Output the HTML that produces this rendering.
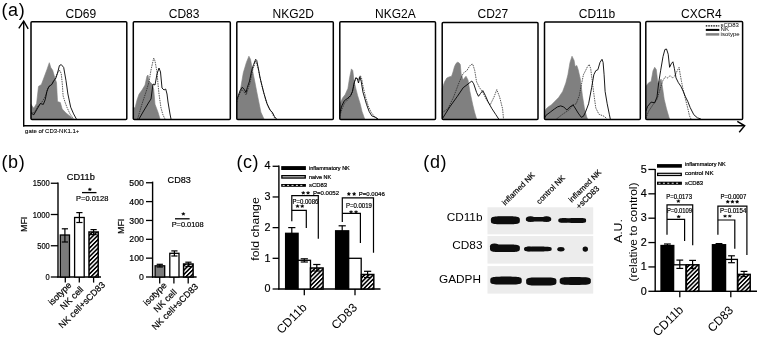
<!DOCTYPE html>
<html><head><meta charset="utf-8"><style>
html,body{margin:0;padding:0;background:#fff;width:760px;height:338px;overflow:hidden;}
svg{display:block;will-change:transform;}
text{font-family:"Liberation Sans", sans-serif;fill:#000;stroke:#000;stroke-width:0.2px;}
</style></head><body>
<svg width="760" height="338" viewBox="0 0 760 338">
<defs>
<pattern id="hatch" patternUnits="userSpaceOnUse" width="3.05" height="3.05" patternTransform="rotate(45)">
<rect width="3.05" height="3.05" fill="#fff"/><rect x="0" y="0" width="1.6" height="3.05" fill="#000"/>
</pattern>
<filter id="bl" x="-20%" y="-50%" width="140%" height="200%"><feGaussianBlur stdDeviation="0.75"/></filter>
</defs>
<rect width="760" height="338" fill="#fff"/>
<text x="1.5" y="15.8" font-size="18" text-anchor="start" letter-spacing="0.6" style="stroke:none">(a)</text>
<text x="65.5" y="18.2" font-size="12" text-anchor="start"  style="stroke:none">CD69</text>
<text x="168.75" y="18.2" font-size="12" text-anchor="start"  style="stroke:none">CD83</text>
<text x="272.5" y="18.2" font-size="12" text-anchor="start"  style="stroke:none">NKG2D</text>
<text x="375" y="18.2" font-size="12" text-anchor="start"  style="stroke:none">NKG2A</text>
<text x="477.5" y="18.2" font-size="12" text-anchor="start"  style="stroke:none">CD27</text>
<text x="578.75" y="18.2" font-size="12" text-anchor="start"  style="stroke:none">CD11b</text>
<text x="681" y="18.2" font-size="12" text-anchor="start"  style="stroke:none">CXCR4</text>
<polygon points="31.00,119.00 31.00,104.40 33.80,108.20 36.60,103.50 38.50,86.40 41.40,84.50 44.20,77.00 47.00,69.40 49.30,62.70 50.80,67.50 52.70,70.30 54.60,77.00 56.50,82.60 57.50,101.60 60.30,102.50 62.20,109.00 66.00,113.00 70.70,116.70 72.60,119.00" fill="#808080" stroke="#808080" stroke-width="0.6"/>
<polyline points="31.00,112.00 34.00,113.00 38.00,106.00 42.00,102.00 45.00,97.00 48.00,88.00 52.00,84.00 55.00,79.00 57.00,74.00 58.50,71.00 60.00,70.50 61.30,74.00 62.30,84.00 63.10,95.90 65.00,102.00 66.90,107.20 70.00,114.00 73.60,119.00" fill="none" stroke="#222" stroke-width="0.75" stroke-linejoin="miter" stroke-dasharray="1.5,0.9"/>
<polyline points="31.00,113.00 33.80,114.80 37.60,108.20 40.40,103.50 43.30,104.40 45.20,99.70 47.00,91.10 48.90,86.40 51.80,84.50 53.70,80.70 55.60,78.80 57.50,73.20 59.40,65.60 61.25,64.60 63.70,67.50 66.00,80.70 67.90,94.00 70.70,107.20 73.60,113.90 76.40,119.00" fill="none" stroke="#000" stroke-width="0.9" stroke-linejoin="miter" />
<rect x="31" y="21.7" width="95.8" height="97.7" rx="1" fill="none" stroke="#000" stroke-width="1.5"/>
<polygon points="133.30,119.00 133.30,107.20 135.00,108.00 137.00,100.00 139.00,94.20 142.00,90.10 145.00,85.10 147.00,76.00 148.00,75.00 149.00,81.00 152.00,84.00 153.70,89.00 155.00,104.20 158.00,112.20 160.00,119.00" fill="#808080" stroke="#808080" stroke-width="0.6"/>
<polyline points="137.60,119.00 142.00,104.00 146.00,92.00 149.00,82.00 151.00,70.00 153.70,58.00 155.00,61.00 157.00,72.00 158.00,84.00 159.00,94.00 161.00,108.00 163.00,115.00 165.00,119.00" fill="none" stroke="#222" stroke-width="0.75" stroke-linejoin="miter" stroke-dasharray="1.5,0.9"/>
<polyline points="139.00,119.00 143.00,112.00 146.00,107.00 149.00,102.00 151.00,99.00 153.00,84.00 155.00,85.00 157.00,74.00 159.00,68.00 160.50,72.00 162.00,88.00 164.00,90.00 165.70,89.00 167.00,94.00 168.00,102.00 170.00,114.00 171.00,119.00" fill="none" stroke="#000" stroke-width="0.9" stroke-linejoin="miter" />
<rect x="133.3" y="21.7" width="97.0" height="97.7" rx="1" fill="none" stroke="#000" stroke-width="1.5"/>
<polygon points="236.80,119.00 236.80,101.90 240.10,91.50 243.30,72.80 246.40,62.40 248.90,56.20 250.50,59.30 252.60,70.70 254.70,81.10 256.70,91.50 258.80,101.90 260.90,112.20 264.00,119.00" fill="#808080" stroke="#808080" stroke-width="0.6"/>
<polyline points="236.80,102.00 239.50,94.00 241.80,89.50 244.00,92.00 246.20,95.00 248.00,89.00 250.00,83.00 252.00,73.00 253.20,68.00 254.20,66.00 255.20,61.00 256.50,63.00 258.00,68.00 259.50,75.00 261.00,82.00 263.00,90.00 266.00,101.00 269.00,108.50 271.50,112.00 274.00,117.00 275.50,119.00" fill="none" stroke="#222" stroke-width="0.75" stroke-linejoin="miter" stroke-dasharray="1.5,0.9"/>
<polyline points="236.80,99.80 240.10,90.50 242.20,87.30 244.30,89.40 246.00,92.50 247.40,87.30 249.50,81.10 251.60,70.70 253.60,64.50 255.70,59.30 256.70,60.40 258.80,70.70 259.90,77.00 261.90,85.30 264.00,93.60 267.10,103.90 270.20,110.20 272.30,112.20 274.40,116.40 276.50,119.00" fill="none" stroke="#000" stroke-width="0.9" stroke-linejoin="miter" />
<rect x="236.8" y="21.7" width="96.5" height="97.7" rx="1" fill="none" stroke="#000" stroke-width="1.5"/>
<polygon points="339.80,119.00 339.80,104.30 342.50,98.10 345.20,94.60 347.90,88.40 349.60,77.70 351.40,68.90 352.80,70.60 354.10,81.30 355.80,88.40 357.60,95.50 360.30,104.30 362.00,111.40 364.70,119.00" fill="#808080" stroke="#808080" stroke-width="0.6"/>
<polyline points="339.80,116.00 342.00,109.00 344.50,103.00 348.00,99.50 351.00,96.00 353.00,90.00 354.80,81.00 356.70,77.70 358.00,80.00 359.00,78.00 360.30,75.60 361.50,78.00 363.00,86.00 365.60,97.20 368.30,106.10 371.00,112.00 374.50,116.70 377.10,119.00" fill="none" stroke="#222" stroke-width="0.75" stroke-linejoin="miter" stroke-dasharray="1.5,0.9"/>
<polyline points="339.80,113.20 341.70,106.10 344.30,100.80 347.90,98.10 350.50,95.50 352.30,91.90 354.10,83.00 355.80,77.70 357.30,78.60 358.50,83.00 359.90,76.80 361.20,81.30 362.90,91.90 364.70,98.10 366.50,104.30 369.10,111.40 371.80,115.90 376.20,117.60 378.00,119.00" fill="none" stroke="#000" stroke-width="0.9" stroke-linejoin="miter" />
<rect x="339.8" y="21.7" width="95.69999999999999" height="97.7" rx="1" fill="none" stroke="#000" stroke-width="1.5"/>
<polygon points="442.20,119.00 442.20,88.70 444.50,82.00 446.80,78.00 449.00,77.00 451.60,76.20 453.00,72.00 454.50,66.50 456.00,63.50 457.40,62.30 459.00,62.80 460.30,64.60 461.20,74.20 463.20,80.00 464.50,78.00 466.00,76.20 468.00,80.00 469.90,91.50 472.80,105.00 474.50,112.00 476.60,119.00" fill="#808080" stroke="#808080" stroke-width="0.6"/>
<polyline points="442.20,112.70 447.80,108.80 453.50,97.30 459.30,81.90 463.20,73.30 467.00,70.40 469.00,67.00 470.80,64.60 472.80,64.20 474.70,70.40 476.60,81.90 479.50,87.70 482.40,91.50 486.20,99.20 490.10,105.00 493.90,97.30 496.80,89.60 499.70,97.30 502.60,108.80 503.50,119.00" fill="none" stroke="#222" stroke-width="0.75" stroke-linejoin="miter" stroke-dasharray="1.5,0.9"/>
<polyline points="442.20,119.00 449.70,107.00 457.40,96.30 463.20,87.70 467.00,84.80 471.80,81.00 473.70,83.80 476.60,92.50 478.50,96.30 480.50,93.50 482.80,90.60 485.30,95.40 488.20,102.10 492.00,108.80 495.80,114.60 498.70,119.00" fill="none" stroke="#000" stroke-width="0.9" stroke-linejoin="miter" />
<rect x="442.2" y="22.4" width="95.80000000000001" height="97.0" rx="1" fill="none" stroke="#000" stroke-width="1.5"/>
<polygon points="544.50,119.00 544.50,112.00 546.00,109.00 548.20,106.90 551.30,104.90 554.40,101.80 558.60,97.60 562.70,91.40 565.80,83.10 567.90,74.80 570.00,62.40 572.00,56.20 574.10,60.40 575.10,66.60 576.80,65.50 578.20,69.70 580.30,79.00 582.40,95.50 584.40,108.00 586.50,116.30 587.50,119.00" fill="#808080" stroke="#808080" stroke-width="0.6"/>
<polyline points="556.50,119.00 562.70,114.20 568.90,110.00 573.10,104.90 576.20,103.80 579.30,95.50 581.30,85.20 583.40,74.80 585.50,70.70 587.50,66.60 589.20,64.50 590.70,68.60 591.70,76.90 593.80,93.50 595.80,108.00 598.90,114.20 604.10,116.30 607.20,119.00" fill="none" stroke="#222" stroke-width="0.75" stroke-linejoin="miter" stroke-dasharray="1.5,0.9"/>
<polyline points="544.50,118.00 546.10,115.20 550.30,112.10 554.40,109.00 557.50,106.90 560.60,105.90 563.70,106.90 566.80,110.00 570.00,106.90 573.10,104.90 575.10,108.00 578.20,113.10 581.30,117.30 583.40,116.30 585.50,112.10 588.60,103.80 591.70,87.30 593.80,74.80 595.80,70.70 597.90,69.70 600.00,62.40 602.00,59.30 603.10,62.40 604.10,74.80 605.10,91.40 607.20,103.80 609.30,114.20 610.30,119.00" fill="none" stroke="#000" stroke-width="0.9" stroke-linejoin="miter" />
<rect x="544.5" y="22" width="95.79999999999995" height="97.4" rx="1" fill="none" stroke="#000" stroke-width="1.5"/>
<polygon points="645.80,119.00 645.80,86.20 648.70,82.70 651.10,81.50 653.00,70.80 654.70,67.30 656.30,69.60 657.80,82.70 659.40,81.50 661.10,79.10 662.50,87.40 664.20,99.30 666.50,108.80 668.90,117.10 669.60,119.00" fill="#808080" stroke="#808080" stroke-width="0.6"/>
<polyline points="645.80,118.30 648.70,111.10 653.50,104.00 657.00,99.30 660.60,87.40 663.00,80.30 665.30,76.80 667.70,77.90 670.10,75.60 672.50,77.90 674.80,75.60 677.20,70.80 679.10,67.30 680.00,73.20 681.50,81.50 683.10,89.80 685.50,99.30 687.90,108.80 689.50,115.90 691.00,119.00" fill="none" stroke="#222" stroke-width="0.75" stroke-linejoin="miter" stroke-dasharray="1.5,0.9"/>
<polyline points="645.80,111.10 647.60,106.40 651.10,102.10 654.70,102.80 657.00,96.90 658.70,82.70 660.60,70.80 663.00,56.60 664.90,49.50 666.50,49.00 668.20,54.20 669.60,67.30 671.30,63.70 672.90,61.80 674.40,68.50 676.00,77.90 678.40,82.70 680.80,86.20 683.10,91.00 685.50,96.90 687.90,101.70 690.20,107.60 693.80,114.70 697.40,117.80 700.90,119.00" fill="none" stroke="#000" stroke-width="0.9" stroke-linejoin="miter" />
<rect x="645.8" y="21.6" width="96.80000000000007" height="97.80000000000001" rx="1" fill="none" stroke="#000" stroke-width="1.5"/>
<line x1="705.8" y1="25.9" x2="719.3" y2="25.9" stroke="#000" stroke-width="1.4" stroke-dasharray="1.5,1"/>
<line x1="705.8" y1="29.9" x2="719.3" y2="29.9" stroke="#000" stroke-width="2.0" />
<line x1="705.8" y1="34.4" x2="719.3" y2="34.4" stroke="#808080" stroke-width="2.5" />
<text x="720.6" y="26.6" font-size="6" text-anchor="start" style="stroke:none">sCD83</text>
<text x="720.6" y="31.2" font-size="6" text-anchor="start" style="stroke:none">NK</text>
<text x="720.6" y="36.0" font-size="6" text-anchor="start" style="stroke:none">isotype</text>
<line x1="23.7" y1="21.5" x2="23.7" y2="126.4" stroke="#000" stroke-width="1.4" />
<polyline points="18.80,28.40 23.70,21.00 28.20,28.90" fill="none" stroke="#000" stroke-width="1.4" stroke-linejoin="miter" />
<line x1="23.0" y1="125.8" x2="744.5" y2="125.8" stroke="#000" stroke-width="1.4" />
<polyline points="737.30,121.40 744.70,125.80 739.20,132.30" fill="none" stroke="#000" stroke-width="1.4" stroke-linejoin="miter" />
<text x="25.1" y="132.8" font-size="6" text-anchor="start" style="stroke-width:0.1px">gate of CD3-NK1.1+</text>
<text x="1.5" y="168.2" font-size="18" text-anchor="start" letter-spacing="0.6" style="stroke:none">(b)</text>
<line x1="58" y1="182.6" x2="58" y2="277.6" stroke="#000" stroke-width="1.4" />
<line x1="50.8" y1="183.25" x2="58" y2="183.25" stroke="#000" stroke-width="1.3" />
<text x="49.8" y="186.25" font-size="8.8" text-anchor="end" textLength="17" lengthAdjust="spacingAndGlyphs" >1500</text>
<line x1="50.8" y1="214.5" x2="58" y2="214.5" stroke="#000" stroke-width="1.3" />
<text x="49.8" y="217.5" font-size="8.8" text-anchor="end" textLength="17" lengthAdjust="spacingAndGlyphs" >1000</text>
<line x1="50.8" y1="245.75" x2="58" y2="245.75" stroke="#000" stroke-width="1.3" />
<text x="49.8" y="248.75" font-size="8.8" text-anchor="end" textLength="12.6" lengthAdjust="spacingAndGlyphs" >500</text>
<line x1="50.8" y1="277" x2="58" y2="277" stroke="#000" stroke-width="1.3" />
<text x="49.8" y="280.0" font-size="8.8" text-anchor="end" textLength="4.2" lengthAdjust="spacingAndGlyphs" >0</text>
<line x1="57.4" y1="277" x2="101" y2="277" stroke="#000" stroke-width="1.4" />
<text x="66.8" y="180.2" font-size="9.2" text-anchor="start" textLength="28" lengthAdjust="spacingAndGlyphs" >CD11b</text>
<text x="27" y="224.35" font-size="8.9" text-anchor="middle" transform="rotate(-90 27 224.35)" >MFI</text>
<rect x="60.3" y="235" width="9.2" height="42" fill="#7b7b7b" stroke="#000" stroke-width="1.3"/>
<line x1="64.9" y1="228.8" x2="64.9" y2="242" stroke="#000" stroke-width="1.2" />
<line x1="61.800000000000004" y1="228.8" x2="68.0" y2="228.8" stroke="#000" stroke-width="1.2" />
<line x1="61.800000000000004" y1="242" x2="68.0" y2="242" stroke="#000" stroke-width="1.2" />
<rect x="74.6" y="217.5" width="9.6" height="59.5" fill="#fff" stroke="#000" stroke-width="1.3"/>
<line x1="79.4" y1="212.6" x2="79.4" y2="222.5" stroke="#000" stroke-width="1.2" />
<line x1="76.30000000000001" y1="212.6" x2="82.5" y2="212.6" stroke="#000" stroke-width="1.2" />
<line x1="76.30000000000001" y1="222.5" x2="82.5" y2="222.5" stroke="#000" stroke-width="1.2" />
<rect x="89" y="232" width="9.2" height="45" fill="url(#hatch)" stroke="#000" stroke-width="1.5"/>
<line x1="93.6" y1="229.6" x2="93.6" y2="234.6" stroke="#000" stroke-width="1.2" />
<line x1="90.5" y1="229.6" x2="96.69999999999999" y2="229.6" stroke="#000" stroke-width="1.2" />
<line x1="90.5" y1="234.6" x2="96.69999999999999" y2="234.6" stroke="#000" stroke-width="1.2" />
<line x1="65.3" y1="277" x2="65.3" y2="282.6" stroke="#000" stroke-width="1.3" />
<line x1="79.3" y1="277" x2="79.3" y2="282.6" stroke="#000" stroke-width="1.3" />
<line x1="93.6" y1="277" x2="93.6" y2="282.6" stroke="#000" stroke-width="1.3" />
<line x1="82" y1="192.6" x2="96.5" y2="192.6" stroke="#000" stroke-width="1.3" />
<text x="76.1" y="200.7" font-size="7.5" text-anchor="start" textLength="32.2" lengthAdjust="spacingAndGlyphs" >P=0.0128</text>
<text x="72.1" y="285.7" font-size="9" text-anchor="end" transform="rotate(-45 72.1 285.7)" >isotype</text>
<text x="84" y="290" font-size="9" text-anchor="end" transform="rotate(-45 84 290)" >NK cell</text>
<text x="105.7" y="285.4" font-size="9" text-anchor="end" transform="rotate(-45 105.7 285.4)" >NK cell+sCD83</text>
<line x1="152.6" y1="181.6" x2="152.6" y2="277.6" stroke="#000" stroke-width="1.4" />
<line x1="146" y1="277.0" x2="152.6" y2="277.0" stroke="#000" stroke-width="1.3" />
<text x="143.8" y="280.1" font-size="8.7" text-anchor="end" >0</text>
<line x1="146" y1="258.15" x2="152.6" y2="258.15" stroke="#000" stroke-width="1.3" />
<text x="143.8" y="261.25" font-size="8.7" text-anchor="end" >100</text>
<line x1="146" y1="239.3" x2="152.6" y2="239.3" stroke="#000" stroke-width="1.3" />
<text x="143.8" y="242.4" font-size="8.7" text-anchor="end" >200</text>
<line x1="146" y1="220.45" x2="152.6" y2="220.45" stroke="#000" stroke-width="1.3" />
<text x="143.8" y="223.54999999999998" font-size="8.7" text-anchor="end" >300</text>
<line x1="146" y1="201.6" x2="152.6" y2="201.6" stroke="#000" stroke-width="1.3" />
<text x="143.8" y="204.7" font-size="8.7" text-anchor="end" >400</text>
<line x1="146" y1="182.75" x2="152.6" y2="182.75" stroke="#000" stroke-width="1.3" />
<text x="143.8" y="185.85" font-size="8.7" text-anchor="end" >500</text>
<line x1="152.0" y1="277" x2="196.6" y2="277" stroke="#000" stroke-width="1.4" />
<text x="167.6" y="183.0" font-size="9.1" text-anchor="start" >CD83</text>
<text x="124" y="226.3" font-size="8.9" text-anchor="middle" transform="rotate(-90 124 226.3)" >MFI</text>
<rect x="155.1" y="265.8" width="9.6" height="11.2" fill="#7b7b7b" stroke="#000" stroke-width="1.3"/>
<line x1="159.8" y1="264.3" x2="159.8" y2="267" stroke="#000" stroke-width="1.2" />
<line x1="156.70000000000002" y1="264.3" x2="162.9" y2="264.3" stroke="#000" stroke-width="1.2" />
<line x1="156.70000000000002" y1="267" x2="162.9" y2="267" stroke="#000" stroke-width="1.2" />
<rect x="169.8" y="253.3" width="9.2" height="23.7" fill="#fff" stroke="#000" stroke-width="1.3"/>
<line x1="174.4" y1="250.9" x2="174.4" y2="256" stroke="#000" stroke-width="1.2" />
<line x1="171.3" y1="250.9" x2="177.5" y2="250.9" stroke="#000" stroke-width="1.2" />
<line x1="171.3" y1="256" x2="177.5" y2="256" stroke="#000" stroke-width="1.2" />
<rect x="183.6" y="264" width="9.5" height="13" fill="url(#hatch)" stroke="#000" stroke-width="1.5"/>
<line x1="188.4" y1="262.2" x2="188.4" y2="266.5" stroke="#000" stroke-width="1.2" />
<line x1="185.3" y1="262.2" x2="191.5" y2="262.2" stroke="#000" stroke-width="1.2" />
<line x1="185.3" y1="266.5" x2="191.5" y2="266.5" stroke="#000" stroke-width="1.2" />
<line x1="159.7" y1="277" x2="159.7" y2="283.6" stroke="#000" stroke-width="1.3" />
<line x1="173.9" y1="277" x2="173.9" y2="283.6" stroke="#000" stroke-width="1.3" />
<line x1="188.2" y1="277" x2="188.2" y2="283.6" stroke="#000" stroke-width="1.3" />
<line x1="175" y1="218.8" x2="189.6" y2="218.8" stroke="#000" stroke-width="1.3" />
<text x="171.7" y="227.1" font-size="7.2" text-anchor="start" textLength="31.9" lengthAdjust="spacingAndGlyphs" >P=0.0108</text>
<text x="167.3" y="286" font-size="9" text-anchor="end" transform="rotate(-45 167.3 286)" >isotype</text>
<text x="177.4" y="292.8" font-size="9" text-anchor="end" transform="rotate(-45 177.4 292.8)" >NK cell</text>
<text x="198.8" y="287.2" font-size="9" text-anchor="end" transform="rotate(-45 198.8 287.2)" >NK cell+sCD83</text>
<text x="236.4" y="168.2" font-size="18" text-anchor="start" letter-spacing="0.6" style="stroke:none">(c)</text>
<line x1="278.9" y1="165.6" x2="278.9" y2="289.6" stroke="#000" stroke-width="1.4" />
<line x1="272.6" y1="289.0" x2="278.9" y2="289.0" stroke="#000" stroke-width="1.3" />
<text x="270.6" y="292.2" font-size="11.8" text-anchor="end" textLength="6.0" lengthAdjust="spacingAndGlyphs" >0</text>
<line x1="272.6" y1="258.32" x2="278.9" y2="258.32" stroke="#000" stroke-width="1.3" />
<text x="270.6" y="261.52" font-size="11.8" text-anchor="end" textLength="6.0" lengthAdjust="spacingAndGlyphs" >1</text>
<line x1="272.6" y1="227.64" x2="278.9" y2="227.64" stroke="#000" stroke-width="1.3" />
<text x="270.6" y="230.83999999999997" font-size="11.8" text-anchor="end" textLength="6.0" lengthAdjust="spacingAndGlyphs" >2</text>
<line x1="272.6" y1="196.96" x2="278.9" y2="196.96" stroke="#000" stroke-width="1.3" />
<text x="270.6" y="200.16" font-size="11.8" text-anchor="end" textLength="6.0" lengthAdjust="spacingAndGlyphs" >3</text>
<line x1="272.6" y1="166.28" x2="278.9" y2="166.28" stroke="#000" stroke-width="1.3" />
<text x="270.6" y="169.48" font-size="11.8" text-anchor="end" textLength="6.0" lengthAdjust="spacingAndGlyphs" >4</text>
<line x1="278.29999999999995" y1="289" x2="380.5" y2="289" stroke="#000" stroke-width="1.4" />
<line x1="304.3" y1="289" x2="304.3" y2="295.3" stroke="#000" stroke-width="1.3" />
<line x1="355" y1="289" x2="355" y2="295.3" stroke="#000" stroke-width="1.3" />
<text x="258.7" y="229" font-size="10.8" text-anchor="middle" transform="rotate(-90 258.7 229)" textLength="63.5" lengthAdjust="spacingAndGlyphs" style="stroke:none">fold change</text>
<rect x="285.6" y="233.3" width="12.5" height="55.7" fill="#000" stroke="#000" stroke-width="1.3"/>
<line x1="291.8" y1="227.6" x2="291.8" y2="236" stroke="#000" stroke-width="1.2" />
<line x1="288.2" y1="227.6" x2="295.40000000000003" y2="227.6" stroke="#000" stroke-width="1.2" />
<line x1="288.2" y1="236" x2="295.40000000000003" y2="236" stroke="#000" stroke-width="1.2" />
<rect x="298.1" y="260.3" width="12.4" height="28.7" fill="#fff" stroke="#000" stroke-width="1.3"/>
<line x1="304.3" y1="258.8" x2="304.3" y2="262" stroke="#000" stroke-width="1.2" />
<line x1="300.7" y1="258.8" x2="307.90000000000003" y2="258.8" stroke="#000" stroke-width="1.2" />
<line x1="300.7" y1="262" x2="307.90000000000003" y2="262" stroke="#000" stroke-width="1.2" />
<rect x="310.5" y="268" width="12.6" height="21" fill="url(#hatch)" stroke="#000" stroke-width="1.5"/>
<line x1="316.8" y1="264.5" x2="316.8" y2="271" stroke="#000" stroke-width="1.2" />
<line x1="313.2" y1="264.5" x2="320.40000000000003" y2="264.5" stroke="#000" stroke-width="1.2" />
<line x1="313.2" y1="271" x2="320.40000000000003" y2="271" stroke="#000" stroke-width="1.2" />
<rect x="335.6" y="230.8" width="13.1" height="58.2" fill="#000" stroke="#000" stroke-width="1.3"/>
<line x1="342.2" y1="225.8" x2="342.2" y2="233" stroke="#000" stroke-width="1.2" />
<line x1="338.59999999999997" y1="225.8" x2="345.8" y2="225.8" stroke="#000" stroke-width="1.2" />
<line x1="338.59999999999997" y1="233" x2="345.8" y2="233" stroke="#000" stroke-width="1.2" />
<rect x="348.7" y="258.3" width="12.5" height="30.7" fill="#fff" stroke="#000" stroke-width="1.3"/>
<rect x="361.4" y="274.5" width="12.4" height="14.5" fill="url(#hatch)" stroke="#000" stroke-width="1.5"/>
<line x1="367.6" y1="271.3" x2="367.6" y2="277.5" stroke="#000" stroke-width="1.2" />
<line x1="364.0" y1="271.3" x2="371.20000000000005" y2="271.3" stroke="#000" stroke-width="1.2" />
<line x1="364.0" y1="277.5" x2="371.20000000000005" y2="277.5" stroke="#000" stroke-width="1.2" />
<rect x="281.2" y="166.1" width="24.7" height="3.9" fill="#000"/>
<rect x="281.2" y="175" width="24.7" height="3.7" fill="#000"/>
<line x1="282.5" y1="176.85" x2="304.59999999999997" y2="176.85" stroke="#fff" stroke-width="0.9" />
<rect x="281.2" y="184" width="24.7" height="2.8" fill="#000"/>
<line x1="282.7" y1="185.4" x2="304.59999999999997" y2="185.4" stroke="#fff" stroke-width="0.9" stroke-dasharray="2,2.4"/>
<text x="309" y="169.8" font-size="5.4" text-anchor="start" textLength="40.8" lengthAdjust="spacingAndGlyphs" >inflammatory NK</text>
<text x="309" y="178.6" font-size="5.4" text-anchor="start" textLength="22.2" lengthAdjust="spacingAndGlyphs" >naive NK</text>
<text x="309" y="187.4" font-size="5.4" text-anchor="start" textLength="18" lengthAdjust="spacingAndGlyphs" >sCD83</text>
<polyline points="291.80,221.30 291.80,195.60 318.30,195.60 318.30,238.80" fill="none" stroke="#000" stroke-width="1.2" stroke-linejoin="miter" />
<polyline points="291.80,210.30 306.30,210.30 306.30,228.00" fill="none" stroke="#000" stroke-width="1.2" stroke-linejoin="miter" />
<text x="313" y="194.8" font-size="6.2" text-anchor="start" textLength="26.1" lengthAdjust="spacingAndGlyphs" >P=0.0052</text>
<text x="292.5" y="203.6" font-size="7" text-anchor="start" textLength="25.8" lengthAdjust="spacingAndGlyphs" >P=0.0086</text>
<polyline points="342.30,221.90 342.30,197.80 373.50,197.80 373.50,252.70" fill="none" stroke="#000" stroke-width="1.2" stroke-linejoin="miter" />
<polyline points="342.30,213.40 360.40,213.40 360.40,243.00" fill="none" stroke="#000" stroke-width="1.2" stroke-linejoin="miter" />
<text x="358.8" y="195.9" font-size="6.2" text-anchor="start" textLength="26" lengthAdjust="spacingAndGlyphs" >P=0.0046</text>
<text x="346" y="208" font-size="7" text-anchor="start" textLength="25.9" lengthAdjust="spacingAndGlyphs" >P=0.0019</text>
<text x="307.6" y="308.3" font-size="12.2" text-anchor="end" transform="rotate(-45 307.6 308.3)"  style="stroke:none">CD11b</text>
<text x="357.9" y="308.4" font-size="12" text-anchor="end" transform="rotate(-45 357.9 308.4)"  style="stroke:none">CD83</text>
<text x="423.3" y="168.2" font-size="18" text-anchor="start" letter-spacing="0.6" style="stroke:none">(d)</text>
<rect x="487.5" y="207.3" width="105.7" height="27" fill="#ececec"/>
<rect x="487.5" y="236" width="105.7" height="27.6" fill="#ececec"/>
<rect x="487.5" y="266.1" width="105.7" height="27.5" fill="#ececec"/>
<text x="482.5" y="221.0" font-size="11.8" text-anchor="end"  style="stroke:none">CD11b</text>
<text x="482.5" y="249.4" font-size="11.8" text-anchor="end"  style="stroke:none">CD83</text>
<text x="481" y="283.2" font-size="11.8" text-anchor="end"  style="stroke:none">GADPH</text>
<g filter="url(#bl)">
<polygon points="519.80,220.30 519.77,221.48 519.69,221.97 519.55,222.33 519.36,222.64 519.11,222.90 518.80,223.13 518.43,223.33 518.00,223.51 517.50,223.66 516.94,223.80 516.29,223.92 515.57,224.02 514.74,224.11 513.80,224.18 512.70,224.23 511.37,224.27 509.62,224.29 505.35,224.30 501.08,224.29 499.33,224.27 498.00,224.23 496.90,224.18 495.96,224.11 495.13,224.02 494.41,223.92 493.76,223.80 493.20,223.66 492.70,223.51 492.27,223.33 491.90,223.13 491.59,222.90 491.34,222.64 491.15,222.33 491.01,221.97 490.93,221.48 490.90,220.30 490.93,219.12 491.01,218.63 491.15,218.27 491.34,217.96 491.59,217.70 491.90,217.47 492.27,217.27 492.70,217.09 493.20,216.94 493.76,216.80 494.41,216.68 495.13,216.58 495.96,216.49 496.90,216.42 498.00,216.37 499.33,216.33 501.08,216.31 505.35,216.30 509.62,216.31 511.37,216.33 512.70,216.37 513.80,216.42 514.74,216.49 515.57,216.58 516.29,216.68 516.94,216.80 517.50,216.94 518.00,217.09 518.43,217.27 518.80,217.47 519.11,217.70 519.36,217.96 519.55,218.27 519.69,218.63 519.77,219.12" fill="#080808"/>
<polygon points="551.20,219.20 551.18,219.85 551.10,220.12 550.98,220.32 550.81,220.49 550.59,220.63 550.32,220.76 550.00,220.87 549.62,220.96 549.19,221.05 548.69,221.13 548.13,221.19 547.49,221.25 546.77,221.29 545.95,221.33 544.99,221.36 543.82,221.38 542.28,221.40 538.55,221.40 534.82,221.40 533.28,221.38 532.11,221.36 531.15,221.33 530.33,221.29 529.61,221.25 528.97,221.19 528.41,221.13 527.91,221.05 527.48,220.96 527.10,220.87 526.78,220.76 526.51,220.63 526.29,220.49 526.12,220.32 526.00,220.12 525.92,219.85 525.90,219.20 525.92,218.55 526.00,218.28 526.12,218.08 526.29,217.91 526.51,217.77 526.78,217.64 527.10,217.53 527.48,217.44 527.91,217.35 528.41,217.27 528.97,217.21 529.61,217.15 530.33,217.11 531.15,217.07 532.11,217.04 533.28,217.02 534.82,217.00 538.55,217.00 542.28,217.00 543.82,217.02 544.99,217.04 545.95,217.07 546.77,217.11 547.49,217.15 548.13,217.21 548.69,217.27 549.19,217.35 549.62,217.44 550.00,217.53 550.32,217.64 550.59,217.77 550.81,217.91 550.98,218.08 551.10,218.28 551.18,218.55" fill="#080808"/>
<ellipse cx="530.5" cy="219.1" rx="4.6" ry="2.9" fill="#080808"/>
<ellipse cx="546.5" cy="219.1" rx="4.6" ry="2.9" fill="#080808"/>
<polygon points="570.00,220.45 569.99,220.91 569.94,221.18 569.87,221.40 569.76,221.60 569.63,221.77 569.47,221.93 569.27,222.07 569.05,222.20 568.79,222.32 568.51,222.42 568.19,222.51 567.84,222.59 567.44,222.65 567.01,222.70 566.53,222.75 565.97,222.78 565.30,222.79 564.15,222.80 563.00,222.79 562.33,222.78 561.77,222.75 561.29,222.70 560.86,222.65 560.46,222.59 560.11,222.51 559.79,222.42 559.51,222.32 559.25,222.20 559.03,222.07 558.83,221.93 558.67,221.77 558.54,221.60 558.43,221.40 558.36,221.18 558.31,220.91 558.30,220.45 558.31,219.99 558.36,219.72 558.43,219.50 558.54,219.30 558.67,219.13 558.83,218.97 559.03,218.83 559.25,218.70 559.51,218.58 559.79,218.48 560.11,218.39 560.46,218.31 560.86,218.25 561.29,218.20 561.77,218.15 562.33,218.12 563.00,218.11 564.15,218.10 565.30,218.11 565.97,218.12 566.53,218.15 567.01,218.20 567.44,218.25 567.84,218.31 568.19,218.39 568.51,218.48 568.79,218.58 569.05,218.70 569.27,218.83 569.47,218.97 569.63,219.13 569.76,219.30 569.87,219.50 569.94,219.72 569.99,219.99" fill="#080808"/>
<polygon points="586.10,220.50 586.08,221.24 586.03,221.54 585.94,221.77 585.82,221.96 585.65,222.13 585.45,222.27 585.22,222.39 584.94,222.50 584.62,222.60 584.26,222.69 583.84,222.76 583.38,222.83 582.85,222.88 582.24,222.92 581.53,222.96 580.68,222.98 579.55,223.00 576.80,223.00 574.05,223.00 572.92,222.98 572.07,222.96 571.36,222.92 570.75,222.88 570.22,222.83 569.76,222.76 569.34,222.69 568.98,222.60 568.66,222.50 568.38,222.39 568.15,222.27 567.95,222.13 567.78,221.96 567.66,221.77 567.57,221.54 567.52,221.24 567.50,220.50 567.52,219.76 567.57,219.46 567.66,219.23 567.78,219.04 567.95,218.87 568.15,218.73 568.38,218.61 568.66,218.50 568.98,218.40 569.34,218.31 569.76,218.24 570.22,218.17 570.75,218.12 571.36,218.08 572.07,218.04 572.92,218.02 574.05,218.00 576.80,218.00 579.55,218.00 580.68,218.02 581.53,218.04 582.24,218.08 582.85,218.12 583.38,218.17 583.84,218.24 584.26,218.31 584.62,218.40 584.94,218.50 585.22,218.61 585.45,218.73 585.65,218.87 585.82,219.04 585.94,219.23 586.03,219.46 586.08,219.76" fill="#080808"/>
<polygon points="519.80,248.30 519.77,249.42 519.69,249.88 519.54,250.23 519.35,250.52 519.09,250.77 518.77,250.99 518.39,251.18 517.95,251.35 517.44,251.50 516.86,251.63 516.20,251.74 515.45,251.84 514.60,251.92 513.63,251.98 512.50,252.03 511.14,252.07 509.33,252.09 504.95,252.10 500.57,252.09 498.76,252.07 497.40,252.03 496.27,251.98 495.30,251.92 494.45,251.84 493.70,251.74 493.04,251.63 492.46,251.50 491.95,251.35 491.51,251.18 491.13,250.99 490.81,250.77 490.55,250.52 490.36,250.23 490.21,249.88 490.13,249.42 490.10,248.30 490.13,247.18 490.21,246.72 490.36,246.37 490.55,246.08 490.81,245.83 491.13,245.61 491.51,245.42 491.95,245.25 492.46,245.10 493.04,244.97 493.70,244.86 494.45,244.76 495.30,244.68 496.27,244.62 497.40,244.57 498.76,244.53 500.57,244.51 504.95,244.50 509.33,244.51 511.14,244.53 512.50,244.57 513.63,244.62 514.60,244.68 515.45,244.76 516.20,244.86 516.86,244.97 517.44,245.10 517.95,245.25 518.39,245.42 518.77,245.61 519.09,245.83 519.35,246.08 519.54,246.37 519.69,246.72 519.77,247.18" fill="#080808"/>
<ellipse cx="494.5" cy="246.8" rx="4.6" ry="3.4" fill="#080808"/>
<polygon points="551.60,249.00 551.57,249.71 551.50,250.00 551.36,250.22 551.18,250.40 550.94,250.56 550.65,250.70 550.30,250.82 549.89,250.92 549.42,251.02 548.88,251.10 548.28,251.17 547.59,251.23 546.81,251.28 545.91,251.33 544.87,251.36 543.61,251.38 541.94,251.40 537.90,251.40 533.86,251.40 532.19,251.38 530.93,251.36 529.89,251.33 528.99,251.28 528.21,251.23 527.52,251.17 526.92,251.10 526.38,251.02 525.91,250.92 525.50,250.82 525.15,250.70 524.86,250.56 524.62,250.40 524.44,250.22 524.30,250.00 524.23,249.71 524.20,249.00 524.23,248.29 524.30,248.00 524.44,247.78 524.62,247.60 524.86,247.44 525.15,247.30 525.50,247.18 525.91,247.08 526.38,246.98 526.92,246.90 527.52,246.83 528.21,246.77 528.99,246.72 529.89,246.67 530.93,246.64 532.19,246.62 533.86,246.60 537.90,246.60 541.94,246.60 543.61,246.62 544.87,246.64 545.91,246.67 546.81,246.72 547.59,246.77 548.28,246.83 548.88,246.90 549.42,246.98 549.89,247.08 550.30,247.18 550.65,247.30 550.94,247.44 551.18,247.60 551.36,247.78 551.50,248.00 551.57,248.29" fill="#080808"/>
<ellipse cx="529" cy="248.9" rx="4.8" ry="2.5" fill="#080808"/>
<ellipse cx="560.9" cy="249.2" rx="3.6" ry="2.2" fill="#080808"/>
<ellipse cx="585.3" cy="249.1" rx="2.7" ry="2.6" fill="#080808"/>
<polygon points="521.70,280.60 521.67,281.78 521.58,282.27 521.43,282.63 521.22,282.94 520.95,283.20 520.61,283.43 520.21,283.63 519.74,283.81 519.20,283.96 518.59,284.10 517.89,284.22 517.10,284.32 516.21,284.41 515.18,284.48 513.99,284.53 512.54,284.57 510.63,284.59 506.00,284.60 501.37,284.59 499.46,284.57 498.01,284.53 496.82,284.48 495.79,284.41 494.90,284.32 494.11,284.22 493.41,284.10 492.80,283.96 492.26,283.81 491.79,283.63 491.39,283.43 491.05,283.20 490.78,282.94 490.57,282.63 490.42,282.27 490.33,281.78 490.30,280.60 490.33,279.42 490.42,278.93 490.57,278.57 490.78,278.26 491.05,278.00 491.39,277.77 491.79,277.57 492.26,277.39 492.80,277.24 493.41,277.10 494.11,276.98 494.90,276.88 495.79,276.79 496.82,276.72 498.01,276.67 499.46,276.63 501.37,276.61 506.00,276.60 510.63,276.61 512.54,276.63 513.99,276.67 515.18,276.72 516.21,276.79 517.10,276.88 517.89,276.98 518.59,277.10 519.20,277.24 519.74,277.39 520.21,277.57 520.61,277.77 520.95,278.00 521.22,278.26 521.43,278.57 521.58,278.93 521.67,279.42" fill="#080808"/>
<polygon points="556.40,281.50 556.37,282.71 556.28,283.21 556.14,283.59 555.94,283.90 555.68,284.17 555.35,284.40 554.97,284.61 554.52,284.79 554.00,284.95 553.41,285.09 552.74,285.21 551.98,285.32 551.12,285.40 550.13,285.47 548.98,285.53 547.59,285.57 545.76,285.59 541.30,285.60 536.84,285.59 535.01,285.57 533.62,285.53 532.47,285.47 531.48,285.40 530.62,285.32 529.86,285.21 529.19,285.09 528.60,284.95 528.08,284.79 527.63,284.61 527.25,284.40 526.92,284.17 526.66,283.90 526.46,283.59 526.32,283.21 526.23,282.71 526.20,281.50 526.23,280.29 526.32,279.79 526.46,279.41 526.66,279.10 526.92,278.83 527.25,278.60 527.63,278.39 528.08,278.21 528.60,278.05 529.19,277.91 529.86,277.79 530.62,277.68 531.48,277.60 532.47,277.53 533.62,277.47 535.01,277.43 536.84,277.41 541.30,277.40 545.76,277.41 547.59,277.43 548.98,277.47 550.13,277.53 551.12,277.60 551.98,277.68 552.74,277.79 553.41,277.91 554.00,278.05 554.52,278.21 554.97,278.39 555.35,278.60 555.68,278.83 555.94,279.10 556.14,279.41 556.28,279.79 556.37,280.29" fill="#080808"/>
<polygon points="590.80,281.00 590.77,282.15 590.68,282.63 590.53,282.98 590.32,283.28 590.05,283.54 589.72,283.76 589.32,283.95 588.86,284.13 588.33,284.28 587.72,284.41 587.03,284.53 586.25,284.63 585.36,284.71 584.34,284.78 583.16,284.83 581.73,284.87 579.84,284.89 575.25,284.90 570.66,284.89 568.77,284.87 567.34,284.83 566.16,284.78 565.14,284.71 564.25,284.63 563.47,284.53 562.78,284.41 562.17,284.28 561.64,284.13 561.18,283.95 560.78,283.76 560.45,283.54 560.18,283.28 559.97,282.98 559.82,282.63 559.73,282.15 559.70,281.00 559.73,279.85 559.82,279.37 559.97,279.02 560.18,278.72 560.45,278.46 560.78,278.24 561.18,278.05 561.64,277.87 562.17,277.72 562.78,277.59 563.47,277.47 564.25,277.37 565.14,277.29 566.16,277.22 567.34,277.17 568.77,277.13 570.66,277.11 575.25,277.10 579.84,277.11 581.73,277.13 583.16,277.17 584.34,277.22 585.36,277.29 586.25,277.37 587.03,277.47 587.72,277.59 588.33,277.72 588.86,277.87 589.32,278.05 589.72,278.24 590.05,278.46 590.32,278.72 590.53,279.02 590.68,279.37 590.77,279.85" fill="#080808"/>
</g>
<text x="535.3" y="175.7" font-size="7.8" text-anchor="end" transform="rotate(-45 535.3 175.7)" >inflamed NK</text>
<text x="565.5" y="178.6" font-size="7.9" text-anchor="end" transform="rotate(-45 565.5 178.6)" >control NK</text>
<text x="601.8" y="172.8" font-size="7.8" text-anchor="end" transform="rotate(-45 601.8 172.8)" >inflamed NK</text>
<text x="599.8" y="189" font-size="8" text-anchor="end" transform="rotate(-45 599.8 189)" >+sCD83</text>
<line x1="655.2" y1="169" x2="655.2" y2="291.9" stroke="#000" stroke-width="1.4" />
<line x1="648.4" y1="291.3" x2="655.2" y2="291.3" stroke="#000" stroke-width="1.3" />
<text x="646.8" y="294.6" font-size="11.8" text-anchor="end" textLength="6.0" lengthAdjust="spacingAndGlyphs" >0</text>
<line x1="648.4" y1="266.93" x2="655.2" y2="266.93" stroke="#000" stroke-width="1.3" />
<text x="646.8" y="270.23" font-size="11.8" text-anchor="end" textLength="6.0" lengthAdjust="spacingAndGlyphs" >1</text>
<line x1="648.4" y1="242.56" x2="655.2" y2="242.56" stroke="#000" stroke-width="1.3" />
<text x="646.8" y="245.86" font-size="11.8" text-anchor="end" textLength="6.0" lengthAdjust="spacingAndGlyphs" >2</text>
<line x1="648.4" y1="218.19" x2="655.2" y2="218.19" stroke="#000" stroke-width="1.3" />
<text x="646.8" y="221.49" font-size="11.8" text-anchor="end" textLength="6.0" lengthAdjust="spacingAndGlyphs" >3</text>
<line x1="648.4" y1="193.82" x2="655.2" y2="193.82" stroke="#000" stroke-width="1.3" />
<text x="646.8" y="197.12" font-size="11.8" text-anchor="end" textLength="6.0" lengthAdjust="spacingAndGlyphs" >4</text>
<line x1="648.4" y1="169.45" x2="655.2" y2="169.45" stroke="#000" stroke-width="1.3" />
<text x="646.8" y="172.75" font-size="11.8" text-anchor="end" textLength="6.0" lengthAdjust="spacingAndGlyphs" >5</text>
<line x1="654.6" y1="291.3" x2="757" y2="291.3" stroke="#000" stroke-width="1.4" />
<line x1="679.8" y1="291.3" x2="679.8" y2="297.3" stroke="#000" stroke-width="1.3" />
<line x1="730.8" y1="291.3" x2="730.8" y2="297.3" stroke="#000" stroke-width="1.3" />
<text x="622.5" y="231.1" font-size="11.8" text-anchor="middle" transform="rotate(-90 622.5 231.1)" textLength="24" lengthAdjust="spacingAndGlyphs" style="stroke:none">A.U.</text>
<text x="636.6" y="232" font-size="11.5" text-anchor="middle" transform="rotate(-90 636.6 232)" textLength="99" lengthAdjust="spacingAndGlyphs" style="stroke:none">(relative to control)</text>
<rect x="661" y="245.5" width="12.8" height="45.8" fill="#000" stroke="#000" stroke-width="1.3"/>
<line x1="667.4" y1="244" x2="667.4" y2="246" stroke="#000" stroke-width="1.2" />
<line x1="664.0" y1="244" x2="670.8" y2="244" stroke="#000" stroke-width="1.2" />
<line x1="664.0" y1="246" x2="670.8" y2="246" stroke="#000" stroke-width="1.2" />
<rect x="673.6" y="264.8" width="12.3" height="26.5" fill="#fff" stroke="#000" stroke-width="1.3"/>
<line x1="679.8" y1="260.1" x2="679.8" y2="268.4" stroke="#000" stroke-width="1.2" />
<line x1="676.4" y1="260.1" x2="683.1999999999999" y2="260.1" stroke="#000" stroke-width="1.2" />
<line x1="676.4" y1="268.4" x2="683.1999999999999" y2="268.4" stroke="#000" stroke-width="1.2" />
<rect x="686.4" y="264.8" width="12.5" height="26.5" fill="url(#hatch)" stroke="#000" stroke-width="1.5"/>
<line x1="692.6" y1="260.4" x2="692.6" y2="268.5" stroke="#000" stroke-width="1.2" />
<line x1="689.2" y1="260.4" x2="696.0" y2="260.4" stroke="#000" stroke-width="1.2" />
<line x1="689.2" y1="268.5" x2="696.0" y2="268.5" stroke="#000" stroke-width="1.2" />
<rect x="712.4" y="244.7" width="13.2" height="46.6" fill="#000" stroke="#000" stroke-width="1.3"/>
<line x1="719" y1="243.6" x2="719" y2="246" stroke="#000" stroke-width="1.2" />
<line x1="715.6" y1="243.6" x2="722.4" y2="243.6" stroke="#000" stroke-width="1.2" />
<line x1="715.6" y1="246" x2="722.4" y2="246" stroke="#000" stroke-width="1.2" />
<rect x="725.6" y="259.4" width="11.8" height="31.9" fill="#fff" stroke="#000" stroke-width="1.3"/>
<line x1="731.5" y1="255.8" x2="731.5" y2="262.7" stroke="#000" stroke-width="1.2" />
<line x1="728.1" y1="255.8" x2="734.9" y2="255.8" stroke="#000" stroke-width="1.2" />
<line x1="728.1" y1="262.7" x2="734.9" y2="262.7" stroke="#000" stroke-width="1.2" />
<rect x="737.9" y="274.4" width="12.3" height="16.9" fill="url(#hatch)" stroke="#000" stroke-width="1.5"/>
<line x1="744" y1="271.4" x2="744" y2="276.5" stroke="#000" stroke-width="1.2" />
<line x1="740.6" y1="271.4" x2="747.4" y2="271.4" stroke="#000" stroke-width="1.2" />
<line x1="740.6" y1="276.5" x2="747.4" y2="276.5" stroke="#000" stroke-width="1.2" />
<rect x="657" y="164.1" width="24.9" height="3.6" fill="#000"/>
<rect x="657" y="172.7" width="24.9" height="3.4" fill="#000"/>
<line x1="658.3" y1="174.39999999999998" x2="680.6" y2="174.39999999999998" stroke="#fff" stroke-width="0.9" />
<rect x="657" y="181.7" width="24.9" height="3.1" fill="#000"/>
<line x1="658.5" y1="183.25" x2="680.6" y2="183.25" stroke="#fff" stroke-width="0.9" stroke-dasharray="2,2.4"/>
<text x="685" y="165.7" font-size="5.4" text-anchor="start" textLength="40.6" lengthAdjust="spacingAndGlyphs" >inflammatory NK</text>
<text x="685" y="174.8" font-size="5.4" text-anchor="start" textLength="28.5" lengthAdjust="spacingAndGlyphs" >control NK</text>
<text x="685" y="184.8" font-size="5.4" text-anchor="start" textLength="18" lengthAdjust="spacingAndGlyphs" >sCD83</text>
<polyline points="667.00,234.70 667.00,204.80 692.70,204.80 692.70,245.30" fill="none" stroke="#000" stroke-width="1.2" stroke-linejoin="miter" />
<polyline points="667.00,219.40 684.60,219.40 684.60,241.00" fill="none" stroke="#000" stroke-width="1.2" stroke-linejoin="miter" />
<text x="666.3" y="199" font-size="6.5" text-anchor="start" textLength="25.7" lengthAdjust="spacingAndGlyphs" >P=0.0173</text>
<text x="667" y="212.6" font-size="6.5" text-anchor="start" textLength="25" lengthAdjust="spacingAndGlyphs" >P=0.0109</text>
<polyline points="717.90,234.70 717.90,206.10 746.90,206.10 746.90,254.90" fill="none" stroke="#000" stroke-width="1.2" stroke-linejoin="miter" />
<polyline points="717.90,220.00 734.80,220.00 734.80,248.70" fill="none" stroke="#000" stroke-width="1.2" stroke-linejoin="miter" />
<text x="720.4" y="199" font-size="6.5" text-anchor="start" textLength="25.9" lengthAdjust="spacingAndGlyphs" >P=0.0007</text>
<text x="720" y="212.6" font-size="6.5" text-anchor="start" textLength="26.3" lengthAdjust="spacingAndGlyphs" >P=0.0154</text>
<text x="684.1" y="310.7" font-size="12.3" text-anchor="end" transform="rotate(-45 684.1 310.7)"  style="stroke:none">CD11b</text>
<text x="734.1" y="311" font-size="12" text-anchor="end" transform="rotate(-45 734.1 311)"  style="stroke:none">CD83</text>
<polygon points="89.85,187.80 90.42,188.75 91.70,188.91 90.78,189.65 90.99,190.70 89.85,190.20 88.71,190.70 88.92,189.65 88.00,188.91 89.28,188.75" fill="#000" stroke="#000" stroke-width="0.3"/>
<polygon points="183.35,212.30 183.92,213.29 185.20,213.45 184.28,214.21 184.49,215.30 183.35,214.79 182.21,215.30 182.42,214.21 181.50,213.45 182.78,213.29" fill="#000" stroke="#000" stroke-width="0.3"/>
<polygon points="303.25,191.20 303.82,192.22 305.10,192.38 304.18,193.18 304.39,194.30 303.25,193.77 302.11,194.30 302.32,193.18 301.40,192.38 302.68,192.22" fill="#000" stroke="#000" stroke-width="0.3"/>
<polygon points="308.05,191.20 308.62,192.22 309.90,192.38 308.98,193.18 309.19,194.30 308.05,193.77 306.91,194.30 307.12,193.18 306.20,192.38 307.48,192.22" fill="#000" stroke="#000" stroke-width="0.3"/>
<polygon points="297.55,204.50 298.12,205.52 299.40,205.68 298.48,206.48 298.69,207.60 297.55,207.07 296.41,207.60 296.62,206.48 295.70,205.68 296.98,205.52" fill="#000" stroke="#000" stroke-width="0.3"/>
<polygon points="302.25,204.50 302.82,205.52 304.10,205.68 303.18,206.48 303.39,207.60 302.25,207.07 301.11,207.60 301.32,206.48 300.40,205.68 301.68,205.52" fill="#000" stroke="#000" stroke-width="0.3"/>
<polygon points="348.85,192.10 349.42,193.22 350.70,193.40 349.78,194.27 349.99,195.50 348.85,194.92 347.71,195.50 347.92,194.27 347.00,193.40 348.28,193.22" fill="#000" stroke="#000" stroke-width="0.3"/>
<polygon points="354.15,192.10 354.72,193.22 356.00,193.40 355.08,194.27 355.29,195.50 354.15,194.92 353.01,195.50 353.22,194.27 352.30,193.40 353.58,193.22" fill="#000" stroke="#000" stroke-width="0.3"/>
<polygon points="351.05,210.40 351.62,211.26 352.90,211.39 351.98,212.06 352.19,213.00 351.05,212.56 349.91,213.00 350.12,212.06 349.20,211.39 350.48,211.26" fill="#000" stroke="#000" stroke-width="0.3"/>
<polygon points="356.05,210.40 356.62,211.26 357.90,211.39 356.98,212.06 357.19,213.00 356.05,212.56 354.91,213.00 355.12,212.06 354.20,211.39 355.48,211.26" fill="#000" stroke="#000" stroke-width="0.3"/>
<polygon points="678.35,199.50 678.92,200.49 680.20,200.65 679.28,201.41 679.49,202.50 678.35,201.99 677.21,202.50 677.42,201.41 676.50,200.65 677.78,200.49" fill="#000" stroke="#000" stroke-width="0.3"/>
<polygon points="678.65,215.00 679.22,215.99 680.50,216.15 679.58,216.91 679.79,218.00 678.65,217.49 677.51,218.00 677.72,216.91 676.80,216.15 678.08,215.99" fill="#000" stroke="#000" stroke-width="0.3"/>
<polygon points="727.75,200.00 728.32,201.05 729.60,201.22 728.68,202.04 728.89,203.20 727.75,202.65 726.61,203.20 726.82,202.04 725.90,201.22 727.18,201.05" fill="#000" stroke="#000" stroke-width="0.3"/>
<polygon points="732.45,200.00 733.02,201.05 734.30,201.22 733.38,202.04 733.59,203.20 732.45,202.65 731.31,203.20 731.52,202.04 730.60,201.22 731.88,201.05" fill="#000" stroke="#000" stroke-width="0.3"/>
<polygon points="737.15,200.00 737.72,201.05 739.00,201.22 738.08,202.04 738.29,203.20 737.15,202.65 736.01,203.20 736.22,202.04 735.30,201.22 736.58,201.05" fill="#000" stroke="#000" stroke-width="0.3"/>
<polygon points="725.05,214.70 725.62,215.56 726.90,215.69 725.98,216.36 726.19,217.30 725.05,216.86 723.91,217.30 724.12,216.36 723.20,215.69 724.48,215.56" fill="#000" stroke="#000" stroke-width="0.3"/>
<polygon points="729.75,214.70 730.32,215.56 731.60,215.69 730.68,216.36 730.89,217.30 729.75,216.86 728.61,217.30 728.82,216.36 727.90,215.69 729.18,215.56" fill="#000" stroke="#000" stroke-width="0.3"/>
</svg></body></html>
